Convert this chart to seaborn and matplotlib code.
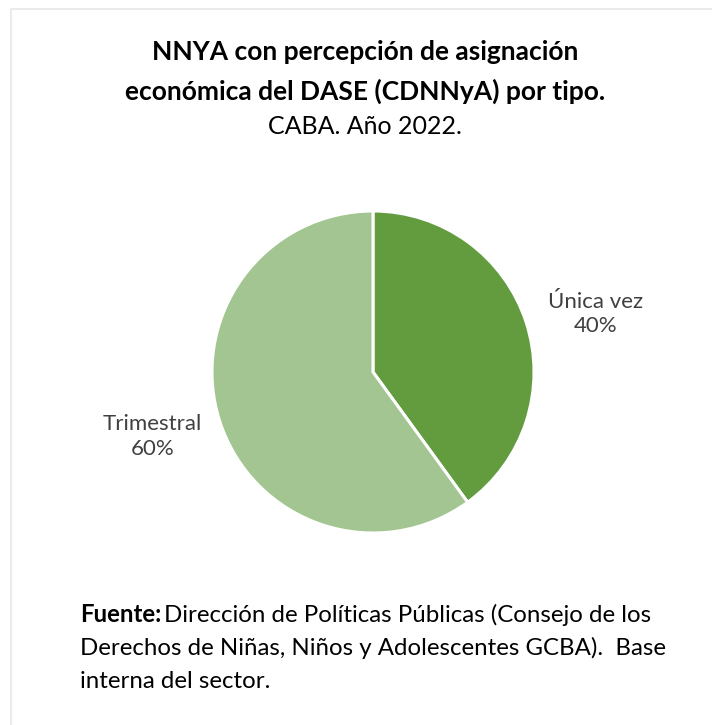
import matplotlib
matplotlib.use("Agg")
import matplotlib.pyplot as plt
import seaborn as sns

categories = ["Única vez", "Trimestral"]
values = [40, 60]
colors = ["#639B3F", "#A2C591"]

sns.set_theme(style="white")
plt.rcParams['font.family'] = ['Lato', 'DejaVu Sans']

W, H = 712, 725
fig = plt.figure(figsize=(W / 100, H / 100), dpi=100)
fig.patch.set_facecolor("white")

# faint frame
fig.add_artist(plt.Line2D([11 / W, 11 / W], [0, 1 - 9 / H], color="#EBEBEB", lw=1.5))
fig.add_artist(plt.Line2D([11 / W, 1], [1 - 9 / H, 1 - 9 / H], color="#EBEBEB", lw=1.5))

cx, cy, r = 373, 372, 161
ax = fig.add_axes([(cx - r) / W, (H - cy - r) / H, 2 * r / W, 2 * r / H])
wedges, _ = ax.pie(values, colors=sns.color_palette(colors), startangle=90, counterclock=False,
                   radius=1, wedgeprops=dict(edgecolor="white", linewidth=2.2))
ax.set_xlim(-1, 1)
ax.set_ylim(-1, 1)
ax.set_aspect("equal")
ax.axis("off")

# labels
ax.text(1.38, 0.36, f"{categories[0]}\n{values[0]}%", ha="center", va="center",
        fontsize=16, color="#404040", linespacing=1.3)
ax.text(-1.37, -0.40, f"{categories[1]}\n{values[1]}%", ha="center", va="center",
        fontsize=16, color="#404040", linespacing=1.3)

# title
tx = 365 / W
fig.text(tx, 1 - 52 / H, "NNYA con percepción de asignación", ha="center", va="center",
         fontsize=19, fontweight="bold", color="#000000")
fig.text(tx, 1 - 91 / H, "económica del DASE (CDNNyA) por tipo.", ha="center", va="center",
         fontsize=19, fontweight="bold", color="#000000")
fig.text(tx, 1 - 127 / H, "CABA. Año 2022.", ha="center", va="center",
         fontsize=18, color="#000000")

# source
x0 = 80 / W
fs = 17.3
t = fig.text(x0, 1 - 615 / H, "Fuente:", ha="left", va="center", fontsize=fs,
             fontweight="bold", color="#000000")
fig.canvas.draw()
bb = t.get_window_extent()
fig.text(bb.x1 / W + 0.004, 1 - 615 / H, "Dirección de Políticas Públicas (Consejo de los",
         ha="left", va="center", fontsize=fs, color="#000000")
fig.text(x0, 1 - 648 / H, "Derechos de Niñas, Niños y Adolescentes GCBA).  Base",
         ha="left", va="center", fontsize=fs, color="#000000")
fig.text(x0, 1 - 681 / H, "interna del sector.",
         ha="left", va="center", fontsize=fs, color="#000000")

fig.savefig("out.png", dpi=100, facecolor="white")
